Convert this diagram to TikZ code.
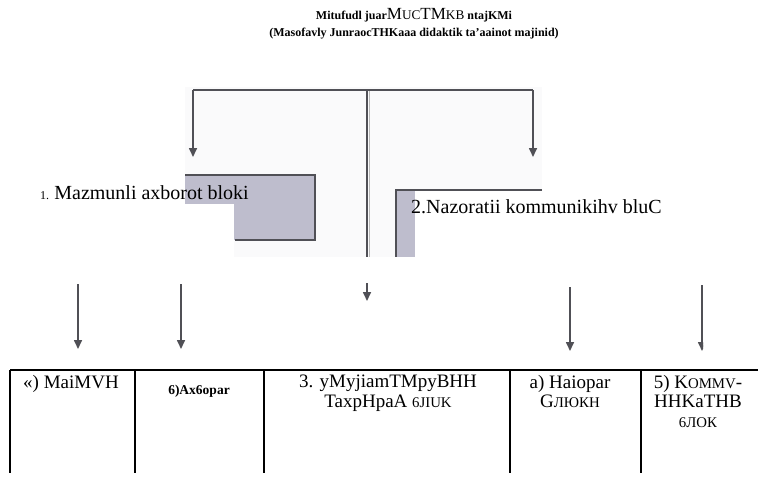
\documentclass[tikz,border=0pt]{standalone}
\usepackage{fontspec}
\setmainfont{Liberation Serif}
\usetikzlibrary{arrows.meta}
\definecolor{boxgrey}{RGB}{190,189,205}
\definecolor{linegrey}{RGB}{80,80,86}
\definecolor{scangrey}{RGB}{250,250,251}
\newcommand\smc[1]{\scalebox{0.78}{#1}}
\tikzset{
  conn/.style={draw=linegrey, line width=1.6pt},
  arr/.style={conn, -{Triangle[length=9pt,width=8pt]}},
  tline/.style={draw=black, line width=2pt},
  cell/.style={anchor=north, align=center, inner sep=0pt, font=\fontsize{19}{19.5}\selectfont},
  lbl/.style={anchor=west, inner sep=0pt, font=\fontsize{20}{24}\selectfont},
  ttl/.style={inner sep=0pt, font=\bfseries\fontsize{12}{14}\selectfont},
  boxedge/.style={draw=linegrey, line width=1.5pt}
}
\begin{document}
\begin{tikzpicture}[x=1pt,y=-1pt]
\useasboundingbox (0,0) rectangle (758,483);
\fill[white] (0,0) rectangle (758,483);
% scanned background
\fill[scangrey] (185,87) rectangle (542,257);
% left grey box
\fill[boxgrey] (185,175) rectangle (315,240);
\draw[boxedge] (185,175) -- (315,175) -- (315,240) -- (235,240);
\fill[white] (184,204) rectangle (234,258);
% right box
\fill[white] (396,190) rectangle (543,258);
\fill[boxgrey] (396,190) rectangle (415,257);
\draw[boxedge] (542,190) -- (396,190) -- (396,257);
% centre line
\coordinate (ctop) at (367,90);
\coordinate (cbot) at (367,257);
\draw[linegrey, line width=2pt] (ctop) -- (cbot);
\draw[gray!55, line width=1pt] ([xshift=2.5pt]ctop) -- ([xshift=2.5pt]cbot);
% top bracket
\coordinate (tl) at (193,90);
\coordinate (tr) at (533,90);
\coordinate (la) at (193,157);
\coordinate (ra) at (533,157);
\draw[conn] (tl) -- (tr);
\draw[arr] (tl) -- (la);
\draw[arr] (tr) -- (ra);
% block labels
\node[lbl] (b1) at (40,193) {{\fontsize{12}{14}\selectfont 1.}\hspace{-1.5pt} Mazmunli axborot bloki};
\node[lbl] (b2) at (411,207) {2.Nazoratii kommunikihv bluC};
% lower arrows
\coordinate (s1) at (78,284);  \coordinate (e1) at (78,349);
\coordinate (s2) at (181,284); \coordinate (e2) at (181,349);
\coordinate (s3) at (367,283); \coordinate (e3) at (367,301);
\coordinate (s4) at (570,287); \coordinate (e4) at (570,351);
\coordinate (s5) at (702,285); \coordinate (e5) at (702,351);
\draw[arr] (s1) -- (e1);
\draw[arr] (s2) -- (e2);
\draw[arr] (s3) -- (e3);
\draw[arr] (s4) -- (e4);
\begin{scope}
\clip (0,0) rectangle (703,483);
\draw[arr] (s5) -- (e5);
\end{scope}
% table
\coordinate (tabl) at (10,370);
\coordinate (tabr) at (758,370);
\draw[tline] (tabl) -- (tabr);
\foreach \x in {10,135,264,510,641} {
  \draw[tline] (\x,370) -- (\x,473);
}
\node[cell] (c1) at (71,375) {«) MaiMVH};
\node[cell, font=\bfseries\fontsize{13.5}{15}\selectfont] (c2) at (199,385) {6)Ах6opar};
\node[cell] (c3) at (388,375) {3. yMyjiamTMpyBHH\\TaxpHpaA \smc{6JIUK}};
\node[cell] (c4) at (570,375) {a) Haiopar\\G\smc{ЛЮКН}};
\node[cell] (c5) at (698,375) {5) K\smc{OMMV}-\\HHKaTHB\\\smc{6ЛОК}};
% title
\node[ttl] (t1) at (414,15) {Mitufudl juar{\mdseries\fontsize{17}{19}\selectfont M\smc{UC}TM\smc{KB}} ntajKMi};
\node[ttl] (t2) at (414,34) {(Masofavly JunraocTHKaaa didaktik ta'aainot majinid)};
\end{tikzpicture}
\end{document}
